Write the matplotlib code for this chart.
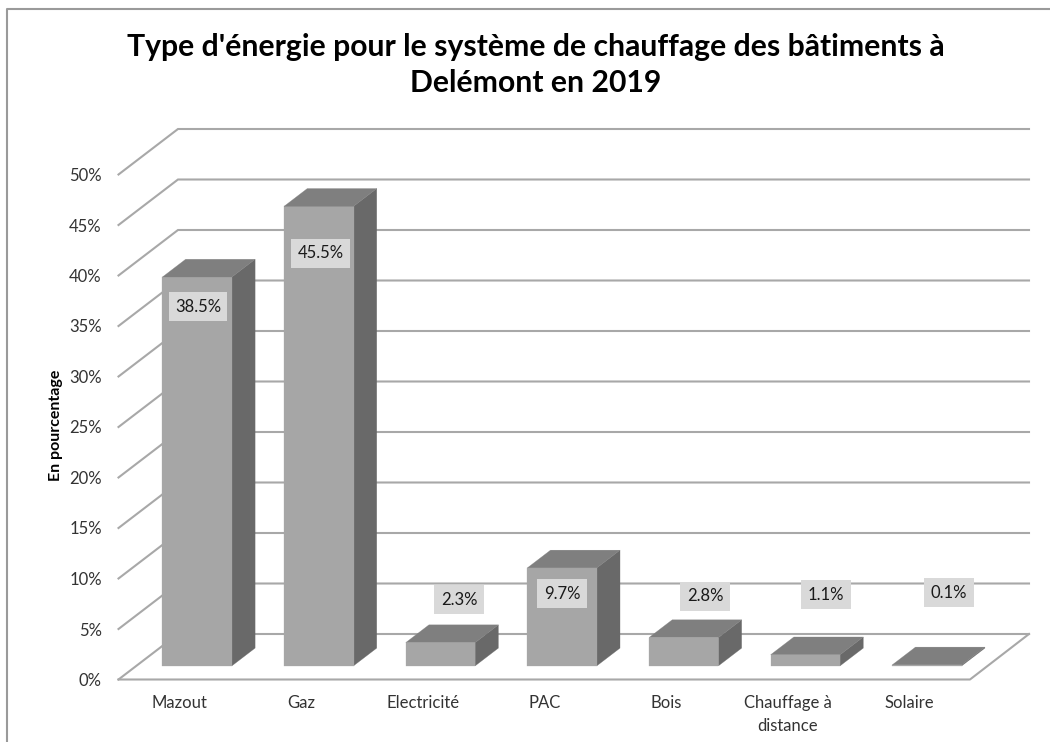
import matplotlib
matplotlib.use("Agg")
import matplotlib.pyplot as plt
from matplotlib.patches import Polygon

plt.rcParams['font.family'] = ['Lato', 'DejaVu Sans']

# data
categories = ["Mazout", "Gaz", "Electricité", "PAC", "Bois", "Chauffage à\ndistance", "Solaire"]
values = [38.5, 45.5, 2.3, 9.7, 2.8, 1.1, 0.1]
value_labels = ["38.5%", "45.5%", "2.3%", "9.7%", "2.8%", "1.1%", "0.1%"]
y_ticks = [0, 5, 10, 15, 20, 25, 30, 35, 40, 45, 50]
y_tick_labels = ["0%", "5%", "10%", "15%", "20%", "25%", "30%", "35%", "40%", "45%", "50%"]

# where the value boxes sit, in axis units
label_x = [0.654, 1.661, 2.799, 3.646, 4.822, 5.816, 6.827]
label_y = [36.93, 42.18, 7.92, 8.51, 8.22, 8.41, 8.61]

# fake 3D: how far the back wall is shifted from the front, in axis units
DEPTH_X = 0.489
DEPTH_Y = 4.505
BAR_WIDTH = 0.571
BAR_D0 = 0.30
BAR_D1 = 0.69

GRID = "#a8a8a8"
FRONT = "#a6a6a6"
TOP = "#7f7f7f"
SIDE = "#696969"
TEXT = "#333333"

W, H = 1050, 742
fig = plt.figure(figsize=(W / 100, H / 100), dpi=100, facecolor="white")

# axes box runs from the 0% corner to the end of the top grid line
left, right, bottom, top = 118.5, 1029, 679.5, 129
ax = fig.add_axes([left / W, 1 - bottom / H, (right - left) / W, (bottom - top) / H])
x_max = (right - left) / 121.64
y_max = (bottom - top) / 10.1
ax.set_xlim(0, x_max)
ax.set_ylim(0, y_max)
ax.patch.set_visible(False)
for s in ax.spines.values():
    s.set_visible(False)


def pt(x, y, d):
    return (x + DEPTH_X * d, y + DEPTH_Y * d)


# grid
for v in y_ticks:
    ax.plot([0, DEPTH_X, x_max], [v, v + DEPTH_Y, v + DEPTH_Y], color=GRID, lw=1.5,
            solid_joinstyle="miter", zorder=1, clip_on=False)
# floor edges
ax.plot([0, 7, x_max], [0, 0, DEPTH_Y], color=GRID, lw=1.5, zorder=1, clip_on=False)

# bars
for i, v in enumerate(values):
    x0 = i + 0.5 - BAR_WIDTH / 2
    x1 = i + 0.5 + BAR_WIDTH / 2
    front = [pt(x0, 0, BAR_D0), pt(x1, 0, BAR_D0), pt(x1, v, BAR_D0), pt(x0, v, BAR_D0)]
    side = [pt(x1, 0, BAR_D0), pt(x1, 0, BAR_D1), pt(x1, v, BAR_D1), pt(x1, v, BAR_D0)]
    roof = [pt(x0, v, BAR_D0), pt(x1, v, BAR_D0), pt(x1, v, BAR_D1), pt(x0, v, BAR_D1)]
    ax.add_patch(Polygon(side, closed=True, facecolor=SIDE, edgecolor=SIDE, lw=0.2, zorder=3))
    ax.add_patch(Polygon(front, closed=True, facecolor=FRONT, edgecolor=FRONT, lw=0.2, zorder=3))
    ax.add_patch(Polygon(roof, closed=True, facecolor=TOP, edgecolor=TOP, lw=0.2, zorder=3))

# value boxes
for x, y, s in zip(label_x, label_y, value_labels):
    ax.text(x, y, s, ha="center", va="center", fontsize=12, color="#1a1a1a", zorder=5,
            bbox=dict(facecolor="#d9d9d9", edgecolor="none", boxstyle="square,pad=0.38"))

ax.set_yticks(y_ticks)
ax.set_yticklabels(y_tick_labels, fontsize=12, color=TEXT)
ax.set_xticks([i + 0.5 for i in range(len(categories))])
ax.set_xticklabels(categories, fontsize=12, color=TEXT, linespacing=1.5)
ax.tick_params(axis="both", length=0)
ax.tick_params(axis="y", pad=12)
ax.tick_params(axis="x", pad=11.5)

fig.text(56 / W, 1 - 425 / H, "En pourcentage", rotation=90, ha="center", va="center",
         fontsize=11.5, fontweight="bold", color="black")

fig.text(536 / W, 1 - 65 / H, "Type d'énergie pour le système de chauffage des bâtiments à\nDelémont en 2019",
         ha="center", va="center", fontsize=21.7, fontweight="bold", color="black", linespacing=1.34)

# image frame, only left and top are in the picture
fig.add_artist(plt.Line2D([7 / W, 7 / W, 1], [0, 1 - 9 / H, 1 - 9 / H], color="#9a9a9a", lw=1.5))

fig.savefig("out.png", dpi=100, facecolor="white")
